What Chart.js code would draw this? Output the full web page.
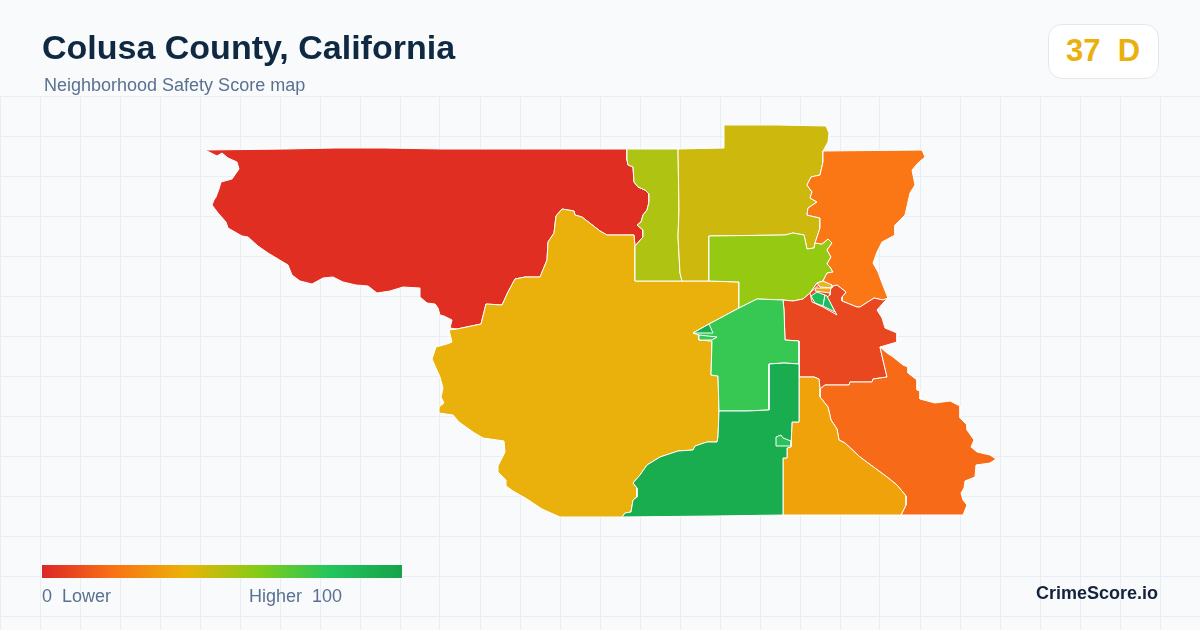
<!DOCTYPE html>
<html>
<head>
<meta charset="utf-8">
<title>Colusa County, California</title>
<script src="https://cdn.jsdelivr.net/npm/chart.js@4"></script>
<style>
  html, body { margin: 0; padding: 0; }
  body { width: 1200px; height: 630px; position: relative; overflow: hidden; background: #f8fafc; font-family: "Liberation Sans", Arial, sans-serif; }
  #map { position: absolute; left: 0; top: 0; }
  .txt { position: absolute; white-space: pre; line-height: 1; }
  #title { left: 42px; top: 30px; font-size: 34px; font-weight: 700; color: #0f2942; }
  #sub { left: 44px; top: 76px; font-size: 18px; color: #5a7190; }
  #badge { position: absolute; left: 1048px; top: 24px; width: 109px; height: 53px; background: #fff; border: 1px solid #e2e8f0; border-radius: 14px; }
  #score { left: 1066px; top: 35px; font-size: 31px; font-weight: 700; color: #eab00c; }
  #ramp { position: absolute; left: 42px; top: 565px; width: 360px; height: 13px; background: linear-gradient(90deg, #dc2626 0%, #f97316 20%, #eab308 40%, #84cc16 60%, #22c55e 80%, #16a34a 100%); }
  #lo { left: 42px; top: 587px; font-size: 18px; color: #5a7190; }
  #hi { left: 249px; top: 587px; font-size: 18px; color: #5a7190; }
  #brand { right: 42px; top: 584px; font-size: 18px; font-weight: 700; color: #14233b; }
</style>
</head>
<body>
<canvas id="map" width="1200" height="630"></canvas>
<div class="txt" id="title">Colusa County, California</div>
<div class="txt" id="sub">Neighborhood Safety Score map</div>
<div id="badge"></div>
<div class="txt" id="score">37  D</div>
<div id="ramp"></div>
<div class="txt" id="lo">0  Lower</div>
<div class="txt" id="hi">Higher  100</div>
<div class="txt" id="brand">CrimeScore.io</div>
<script>
var gridX = [0, 40, 80, 120, 160, 200, 240, 280, 320, 360, 400, 440, 480, 520, 560, 600, 640, 680, 720, 760, 800, 840, 880, 920, 960, 1000, 1040, 1080, 1120, 1160, 1200];
var gridY = [96, 136, 176, 216, 256, 296, 336, 376, 416, 456, 496, 536, 576, 616];

// tract borders, [x, y] in map units
var redOuter = [[457,329],[450,328],[452,320],[444,316],[440,315],[438,308],[435,304],[427,303],[420,297],[420,288],[403,287],[390,291],[377,293],[368,286],[356,285],[343,282],[333,277],[323,278],[312,284],[300,281],[292,275],[290,270],[288,265],[278,259],[268,253],[258,246],[248,237],[242,236],[228,228],[226,222],[218,213],[212,205],[214,200],[216,197],[219,189],[221,182],[232,179],[239,169],[237,162],[228,158],[222,153],[217,156],[205,150],[286,149],[335,148],[385,148],[442,149],[498,149],[627,149]];
var redOlive = [[627,149],[627,160],[628,165],[633,167],[634,182],[638,187],[645,190],[649,194],[649,202],[647,210],[643,215],[641,222],[637,225],[643,230],[643,237],[635,246]];
var redGold = [[635,246],[634,235],[607,235],[600,231],[582,217],[575,215],[574,211],[562,209],[556,216],[554,233],[548,242],[547,260],[540,277],[525,277],[515,279],[508,292],[502,305],[486,304],[481,324],[457,329]];
var goldOuter = [[622,517],[560,517],[542,509],[527,499],[513,491],[506,486],[506,480],[498,472],[498,466],[505,452],[504,441],[483,438],[473,432],[459,422],[453,415],[439,413],[439,407],[444,403],[441,397],[443,388],[440,377],[436,368],[432,359],[436,347],[447,344],[452,342],[449,330],[457,329]];
var goldTop = [[635,246],[635,281],[682,281],[709,281],[739,282],[739,308]];
var goldLight = [[739,308],[709,324],[693,333],[699,335],[699,340],[712,341],[711,375],[718,376],[719,411]];
var goldDark = [[719,411],[718,437],[717,442],[707,442],[695,446],[693,450],[678,451],[660,457],[647,465],[640,475],[633,483],[637,488],[637,497],[633,500],[631,512],[625,513],[622,517]];
var oliveSplit = [[678,149],[679,210],[678,237],[680,273],[682,281]];
var oliveTop = [[627,149],[678,149]];
var mustardTop = [[678,149],[724,148],[724,125],[778,125],[826,126],[829,133],[828,142],[823,151]];
var mustardOrange = [[823,151],[823,162],[820,175],[811,177],[807,185],[812,192],[810,198],[817,202],[808,208],[807,215],[820,218],[820,228],[815,243]];
var mustardLime = [[815,243],[814,248],[807,249],[804,235],[793,233],[785,235],[709,236],[709,281]];
var limeOrange = [[815,243],[822,244],[828,239],[832,243],[827,250],[831,257],[827,264],[830,267],[833,272],[827,273],[823,281]];
var limeBottom = [[823,281],[817,283],[810,293],[803,299],[793,301],[783,300]];
var limeLight = [[783,300],[757,299],[739,308]];
var orangeOuter = [[823,151],[922,150],[925,157],[918,163],[912,170],[915,185],[910,193],[905,215],[895,225],[895,235],[882,242],[877,252],[873,263],[878,272],[882,283],[888,298]];
var orangeRed = [[888,298],[883,300],[874,298],[860,307],[857,307],[842,301],[842,297],[846,292],[837,285],[830,287],[823,281]];
var redOrangeLoop = [[888,298],[884,302],[877,310],[882,318],[885,328],[897,333],[897,342],[880,347]];
var rustOrange2 = [[880,347],[883,360],[887,377],[873,379],[872,382],[850,382],[849,385],[825,385],[820,389]];
var rustAmber = [[820,389],[819,379],[814,377],[799,377]];
var rustLight = [[799,377],[799,341],[785,340],[784,310],[783,300]];
var rustGreens = [[823,281],[830,287],[830,295],[827,297],[837,315],[823,307],[812,302],[810,293]];
var orange2Outer = [[880,347],[887,353],[893,357],[903,365],[908,367],[908,373],[917,380],[917,390],[920,391],[920,399],[935,403],[950,401],[960,406],[960,418],[967,425],[967,430],[974,440],[971,447],[977,452],[990,455],[996,459],[990,463],[976,465],[975,477],[965,481],[964,488],[961,493],[963,500],[967,505],[963,515],[901,515]];
var amberOrange2 = [[820,389],[820,397],[828,407],[831,420],[837,429],[839,440],[845,443],[860,457],[887,477],[897,485],[906,496],[906,505],[901,515]];
var amberBottom = [[901,515],[823,515],[783,515]];
var amberDark = [[783,515],[783,458],[787,458],[787,448],[791,447],[792,422],[799,422],[799,377]];
var darkTop = [[799,377],[799,364],[784,363],[769,364],[769,410],[747,411],[719,411]];
var darkBottom = [[622,517],[715,516],[783,515]];
var greenWest = [[811,296],[817,292],[825,295],[823,306],[815,303]];
var greenEast = [[825,295],[827,296],[835,312],[823,306]];
var tinyNorth = [[817,283],[823,281],[832,285],[832,288],[820,287]];
var tinySouth = [[816,288],[831,288],[830,293],[815,291]];
var wedgeDark = [[693,333],[709,324],[713,333]];
var wedgeLight = [[699,335],[717,337],[712,340],[699,340]];
var pocketGreen = [[776,437],[781,435],[783,438],[791,441],[791,446],[776,446]];

// walks the border pieces in order, reversed ones flagged with true
function ring() {
  var out = [];
  for (var i = 0; i < arguments.length; i++) {
    var part = arguments[i];
    var pts = part[1] === true ? part[0].slice().reverse() : part;
    pts.forEach(function (p) { out.push({ x: p[0], y: p[1] }); });
  }
  out.push({ x: out[0].x, y: out[0].y });
  return out;
}
function rev(part) { return [part, true]; }

var tracts = [
  { color: "#e02e22", pts: ring(redOuter, redOlive, redGold) },
  { color: "#eab00b", pts: ring(goldTop, goldLight, goldDark, goldOuter, rev(redGold)) },
  { color: "#afc312", pts: ring(oliveTop, oliveSplit, rev([[635,281],[682,281]]), rev(redOlive)) },
  { color: "#cdb90d", pts: ring(mustardTop, mustardOrange, mustardLime, [[682,281]], rev(oliveSplit)) },
  { color: "#96c912", pts: ring(rev(mustardLime), limeOrange, limeBottom, limeLight, [[739,282]]) },
  { color: "#fb7615", pts: ring(orangeOuter, orangeRed, rev(limeOrange), rev(mustardOrange)) },
  { color: "#e8471f", pts: ring(rev(orangeRed), redOrangeLoop, rustOrange2, rustAmber, rustLight, rev(limeBottom)) },
  { color: "#f76a18", pts: ring(orange2Outer, rev(amberOrange2), rev(rustOrange2)) },
  { color: "#f0a20a", pts: ring(rev(rustAmber), amberOrange2, amberBottom, amberDark) },
  { color: "#37c853", pts: ring(rev(limeLight), rev(rustLight), darkTop, rev(goldLight)) },
  { color: "#19ad50", pts: ring(darkTop, goldDark, darkBottom, amberDark) },
  { color: "#e8471f", pts: ring(rustGreens) },
  { color: "#1fbf5c", pts: ring(greenWest) },
  { color: "#1dbb5f", pts: ring(greenEast) },
  { color: "#e6b62a", pts: ring(tinyNorth) },
  { color: "#f0a31c", pts: ring(tinySouth) },
  { color: "#19ad50", pts: ring(wedgeDark) },
  { color: "#37c853", pts: ring(wedgeLight) },
  { color: "#2cc05a", pts: ring(pocketGreen) }
];

var datasets = tracts.map(function (t, i) {
  return {
    data: t.pts,
    showLine: true,
    fill: "shape",
    backgroundColor: t.color,
    borderColor: "#ffffff",
    borderWidth: 1,
    pointRadius: 0,
    tension: 0,
    order: tracts.length - i
  };
});

new Chart(document.getElementById("map").getContext("2d"), {
  type: "scatter",
  data: { datasets: datasets },
  options: {
    responsive: false,
    animation: false,
    events: [],
    layout: { padding: { top: 96 } },
    plugins: { legend: { display: false }, tooltip: { enabled: false } },
    scales: {
      x: {
        type: "linear", min: 0, max: 1200,
        afterBuildTicks: function (s) { s.ticks = gridX.map(function (v) { return { value: v }; }); },
        ticks: { display: false },
        border: { display: false },
        grid: { color: "#e8eff4", lineWidth: 1, drawTicks: false }
      },
      y: {
        type: "linear", min: 96, max: 630, reverse: true,
        afterBuildTicks: function (s) { s.ticks = gridY.map(function (v) { return { value: v }; }); },
        ticks: { display: false },
        border: { display: false },
        grid: { color: "#e8eff4", lineWidth: 1, drawTicks: false }
      }
    }
  }
});
</script>
</body>
</html>
